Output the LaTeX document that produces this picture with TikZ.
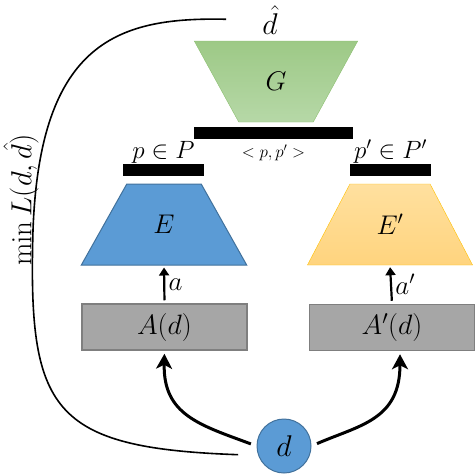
\RequirePackage{fix-cm}
\documentclass[tikz,border=0pt]{standalone}
\usepackage{tikz}
\usetikzlibrary{shapes.geometric}
\usetikzlibrary{arrows.meta,positioning}
\usepackage{amsmath}
\usepackage{amssymb}

\definecolor{genTop}{HTML}{9DC986}
\definecolor{genBot}{HTML}{B6D8A7}
\definecolor{genLine}{HTML}{8CBF70}
\definecolor{encBlue}{HTML}{5B9BD5}
\definecolor{encBlueLine}{HTML}{41719C}
\definecolor{encTop}{HTML}{FFE09F}
\definecolor{encBot}{HTML}{FFD47E}
\definecolor{encYellowLine}{HTML}{FFC000}
\definecolor{augGray}{HTML}{A6A6A6}
\definecolor{augGrayLine}{HTML}{7F7F7F}

\begin{document}
\begin{tikzpicture}[x=1pt, y=-1pt]

\tikzset{trap shape/.style={
    trapezium, trapezium stretches=true,
    trapezium left angle=#1, trapezium right angle=#1,
    minimum width=166pt, minimum height=81pt,
    inner sep=0pt, font=\fontsize{27}{30}\selectfont
  },
  trap shape/.default=55,
  gray box/.style={rectangle, draw=augGrayLine, fill=augGray, line width=1.5pt,
    minimum width=165pt, minimum height=46pt, font=\fontsize{28}{30}\selectfont},
  black bar/.style={rectangle, fill=black, inner sep=0pt, minimum height=12pt},
  small arrow/.style={-{Triangle[length=8pt,width=10pt]}, line width=2.2pt},
  big arrow/.style={-{Stealth[length=15pt,width=16pt,inset=4pt]}, line width=3pt},
  loss curve/.style={line width=1.6pt}
}

\useasboundingbox (0,0) rectangle (476,474);

% generator and the two encoders
\node[trap shape=56, shape border rotate=180, minimum width=164pt,
  top color=genTop, bottom color=genBot, draw=genLine] (G) at (276,81.5) {$G$};
\node[trap shape, fill=encBlue, draw=encBlueLine, line width=1pt] (E) at (164,224.5) {$E$};
\node[trap shape, top color=encTop, bottom color=encBot, draw=encYellowLine] (Ep) at (390,224.5) {$E'$};

% bars
\node[black bar, minimum width=159pt] (barG) at (273.5,133) {};
\node[black bar, minimum width=81pt] (barP) at (163.5,170) {};
\node[black bar, minimum width=81pt] (barPp) at (390.5,170) {};

\node[above=-3pt of barP, font=\fontsize{25}{28}\selectfont] (pP) {$p\in P$};
\node[above=-3pt of barPp, font=\fontsize{25}{28}\selectfont] (pPp) {$p'\in P'$};
\node[below=2pt of barG, font=\fontsize{17}{20}\selectfont] (pair) {$<p,p'>$};

% augmentations
\node[gray box] (Ad) at (164.5,327) {$A(d)$};
\node[gray box] (Apd) at (392,327.5) {$A'(d)$};

\node[circle, fill=encBlue, draw=encBlueLine, line width=1pt, minimum size=54pt,
  inner sep=0pt, font=\fontsize{30}{32}\selectfont] (d) at (284,446) {$d$};
\node[font=\fontsize{30}{32}\selectfont, inner sep=1pt] (dhat) at (270,20) {$\hat{d}$};

\node[rotate=90, font=\fontsize{29}{30}\selectfont] (loss) at (21,200) {$\min L(d,\hat{d})$};

\draw[small arrow, shorten <=3pt, shorten >=2pt] (Ad.north) -- (E.south)
  node[midway, right, font=\fontsize{27}{30}\selectfont] {$a$};
\draw[small arrow, shorten <=3pt, shorten >=2pt] (Apd.north) -- (Ep.south)
  node[midway, right, font=\fontsize{27}{30}\selectfont] {$a'$};

\draw[big arrow, shorten <=6pt, shorten >=3pt] (d.west) .. controls (200,425) and (163,415) .. (Ad.south);
\draw[big arrow, shorten <=6pt, shorten >=3pt] (d.east) .. controls (360,425) and (400,420) .. ([xshift=8pt]Apd.south);

\draw[loss curve, shorten <=35pt, shorten >=20pt] (dhat.west) .. controls (120,17) and (40,40) .. (33,230)
  .. controls (28,410) and (50,448) .. (d.200);

\end{tikzpicture}
\end{document}
